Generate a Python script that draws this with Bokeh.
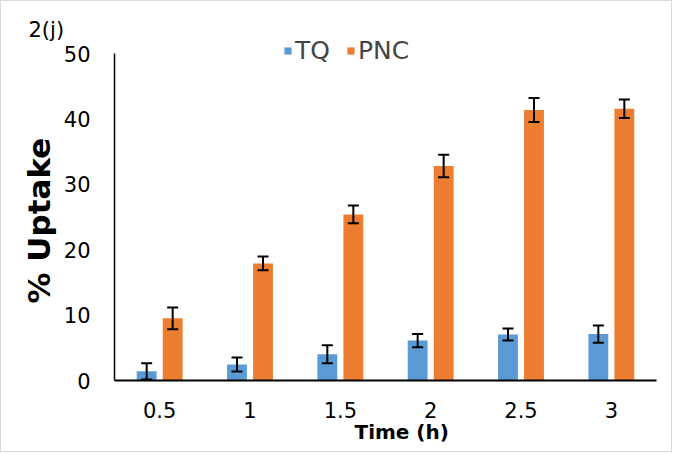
from bokeh.plotting import figure
from bokeh.models import (ColumnDataSource, Range1d, FixedTicker, Whisker, TeeHead,
                          Title, Legend, LegendItem)
from bokeh.embed import file_html
from bokeh.resources import INLINE

# ---- data ----
times = ["0.5", "1", "1.5", "2", "2.5", "3"]
tq = [1.4, 2.45, 4.0, 6.1, 7.05, 7.1]
tq_err = [1.25, 1.07, 1.38, 1.0, 0.92, 1.32]
pnc = [9.5, 17.9, 25.4, 32.8, 41.35, 41.55]
pnc_err = [1.68, 1.05, 1.36, 1.73, 1.84, 1.4]
y_ticks = [0, 10, 20, 30, 40, 50]
series_names = ["TQ", "PNC"]
colors = ["#5B9BD5", "#ED7D31"]

FONT = "DejaVu Sans"
idx = list(range(len(times)))
off = 0.144
bw = 0.22

p = figure(width=672, height=452, output_backend="svg", toolbar_location=None,
           x_range=Range1d(-0.5, 5.5), y_range=Range1d(0, 53.67),
           min_border_left=113, min_border_right=17, min_border_top=28,
           min_border_bottom=73)
p.outline_line_color = None
p.grid.visible = False
p.background_fill_color = "white"
p.border_fill_color = "white"
p.styles = {"border": "1px solid #d9d9d9"}

src_tq = ColumnDataSource(dict(x=[i - off for i in idx], top=tq,
                               lo=[v - e for v, e in zip(tq, tq_err)],
                               hi=[v + e for v, e in zip(tq, tq_err)]))
src_pnc = ColumnDataSource(dict(x=[i + off for i in idx], top=pnc,
                                lo=[v - e for v, e in zip(pnc, pnc_err)],
                                hi=[v + e for v, e in zip(pnc, pnc_err)]))

r1 = p.vbar(x="x", top="top", width=bw, source=src_tq, fill_color=colors[0], line_color=None)
r2 = p.vbar(x="x", top="top", width=bw, source=src_pnc, fill_color=colors[1], line_color=None)

for src in (src_tq, src_pnc):
    w = Whisker(base="x", lower="lo", upper="hi", source=src, line_color="black", line_width=2,
                level="overlay",
                upper_head=TeeHead(size=11, line_color="black", line_width=2),
                lower_head=TeeHead(size=11, line_color="black", line_width=2))
    p.add_layout(w)

# axes
xa = p.xaxis[0]
xa.ticker = FixedTicker(ticks=idx)
xa.major_label_overrides = {i: t for i, t in zip(idx, times)}
xa.major_tick_in = 0
xa.major_tick_out = 0
xa.minor_tick_line_color = None
xa.axis_line_width = 2
xa.axis_line_color = "black"
xa.major_label_text_font = FONT
xa.major_label_text_font_size = "21px"
xa.major_label_text_color = "black"
xa.major_label_standoff = 21

ya = p.yaxis[0]
ya.ticker = FixedTicker(ticks=y_ticks)
ya.bounds = (0, 50)
ya.major_tick_in = 0
ya.major_tick_out = 0
ya.minor_tick_line_color = None
ya.axis_line_width = 1.5
ya.axis_line_color = "black"
ya.major_label_text_font = FONT
ya.major_label_text_font_size = "21px"
ya.major_label_text_color = "black"
ya.major_label_standoff = 24

p.add_layout(Title(text="% Uptake", align="left", offset=77, standoff=8,
                   text_font=FONT, text_font_size="31px", text_font_style="bold",
                   text_color="black"), "left")
p.add_layout(Title(text="Time (h)", align="left", offset=240, standoff=-6,
                   text_font=FONT, text_font_size="20px", text_font_style="bold",
                   text_color="black"), "below")
p.add_layout(Title(text="2(j)", align="left", offset=-86, standoff=-24,
                   text_font=FONT, text_font_size="21px", text_font_style="normal",
                   text_color="black"), "above")

legend = Legend(items=[LegendItem(label=series_names[0], renderers=[r1]),
                       LegendItem(label=series_names[1], renderers=[r2])],
                orientation="horizontal", location=(169, 315),
                glyph_width=9, glyph_height=9, label_text_font=FONT,
                label_text_font_size="25px", label_standoff=3, spacing=16,
                padding=0, margin=0, border_line_color=None,
                background_fill_alpha=0)
p.add_layout(legend, "center")

open("out.html", "w").write(file_html(p, INLINE))
